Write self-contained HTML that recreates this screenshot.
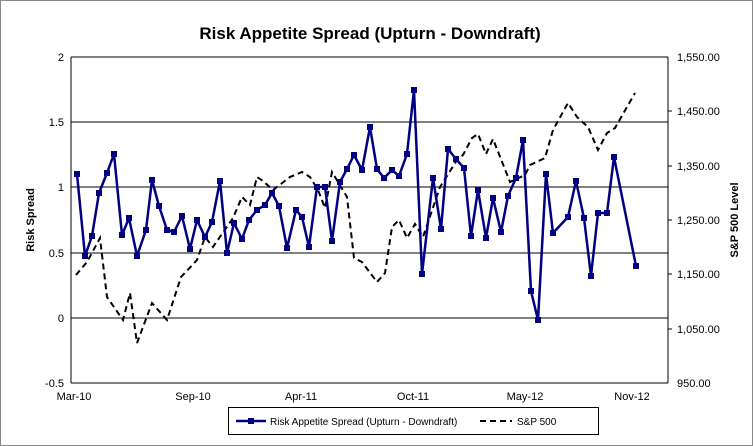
<!DOCTYPE html>
<html><head><style>
body{margin:0;background:#fff;}
svg{display:block;font-family:"Liberation Sans",sans-serif;}
</style></head><body>
<svg width="753" height="446" viewBox="0 0 753 446">
<rect x="0.5" y="0.5" width="752" height="445" fill="#fff" stroke="#888"/>
<text x="370" y="39" font-size="17" font-weight="bold" text-anchor="middle">Risk Appetite Spread (Upturn - Downdraft)</text>
<g stroke="#000" stroke-width="1">
<line x1="71" y1="57" x2="668" y2="57"/>
<line x1="71" y1="122" x2="668" y2="122"/>
<line x1="71" y1="187" x2="668" y2="187"/>
<line x1="71" y1="253" x2="668" y2="253"/>
<line x1="71" y1="318" x2="668" y2="318"/>
<line x1="71" y1="383" x2="668" y2="383"/>
<line x1="71" y1="57" x2="71" y2="383"/>
<line x1="668" y1="57" x2="668" y2="383"/>
<line x1="668" y1="111" x2="672" y2="111"/><line x1="668" y1="166" x2="672" y2="166"/>
<line x1="668" y1="220" x2="672" y2="220"/><line x1="668" y1="274" x2="672" y2="274"/>
<line x1="668" y1="329" x2="672" y2="329"/>
</g>
<g font-size="11" text-anchor="end">
<text x="64" y="61">2</text><text x="64" y="126">1.5</text><text x="64" y="191">1</text>
<text x="64" y="257">0.5</text><text x="64" y="322">0</text><text x="64" y="387">-0.5</text>
</g>
<g font-size="11">
<text x="677" y="61">1,550.00</text><text x="677" y="115">1,450.00</text><text x="677" y="170">1,350.00</text>
<text x="677" y="224">1,250.00</text><text x="677" y="278">1,150.00</text><text x="677" y="333">1,050.00</text>
<text x="677" y="387">950.00</text>
</g>
<g font-size="11" text-anchor="middle">
<text x="74" y="400">Mar-10</text><text x="193" y="400">Sep-10</text><text x="301" y="400">Apr-11</text>
<text x="413" y="400">Oct-11</text><text x="525" y="400">May-12</text><text x="632" y="400">Nov-12</text>
</g>
<text transform="translate(34,220) rotate(-90)" font-size="11" font-weight="bold" text-anchor="middle">Risk Spread</text>
<text transform="translate(738,220) rotate(-90)" font-size="11" font-weight="bold" text-anchor="middle">S&amp;P 500 Level</text>
<polyline fill="none" stroke="#000" stroke-width="2" stroke-dasharray="6,4" points="76,275 87,262 100,238 107,297 123,320 130,293 137,343 152,303 167,320 181,277 197,260 205,237 213,247 233,218 242,197 250,205 257,177 263,181 273,190 290,177 302,172 310,177 318,190 325,208 332,172 347,197 354,258 362,262 377,282 385,273 392,227 399,220 407,238 415,224 423,237 440,187 457,160 463,155 472,138 478,134 486,154 493,139 510,182 525,175 530,165 545,158 553,130 568,103 577,117 588,127 598,150 607,133 615,128 635,93"/>
<g id="blue">
<polyline fill="none" stroke="#000080" stroke-width="2.5" stroke-linejoin="round" points="77,174 85,256 92,236 99,193 107,173 114,154 122,235 129,218 137,256 146,230 152,180 159,206 167,230 174,232 182,216 190,249 197,220 205,237 212,222 220,181 227,253 234,223 242,239 249,220 257,210 265,205 272,193 279,206 287,248 296,210 302,217 309,247 317,187 325,187 332,241 340,182 347,169 354,155 362,170 370,127 377,169 384,178 392,170 399,176 407,154 414,90 422,274 433,178 441,229 448,149 456,159 464,168 471,236 478,190 486,238 493,198 501,232 508,196 516,178 523,140 531,291 538,320 546,174 553,233 568,217 576,181 584,218 591,276 598,213 607,213 614,157 636,266"/>
<g fill="#000080">
<rect x="74" y="171" width="6" height="6"/><rect x="82" y="253" width="6" height="6"/><rect x="89" y="233" width="6" height="6"/><rect x="96" y="190" width="6" height="6"/><rect x="104" y="170" width="6" height="6"/><rect x="111" y="151" width="6" height="6"/><rect x="119" y="232" width="6" height="6"/><rect x="126" y="215" width="6" height="6"/><rect x="134" y="253" width="6" height="6"/><rect x="143" y="227" width="6" height="6"/><rect x="149" y="177" width="6" height="6"/><rect x="156" y="203" width="6" height="6"/><rect x="164" y="227" width="6" height="6"/><rect x="171" y="229" width="6" height="6"/><rect x="179" y="213" width="6" height="6"/><rect x="187" y="246" width="6" height="6"/><rect x="194" y="217" width="6" height="6"/><rect x="202" y="234" width="6" height="6"/><rect x="209" y="219" width="6" height="6"/><rect x="217" y="178" width="6" height="6"/><rect x="224" y="250" width="6" height="6"/><rect x="231" y="220" width="6" height="6"/><rect x="239" y="236" width="6" height="6"/><rect x="246" y="217" width="6" height="6"/><rect x="254" y="207" width="6" height="6"/><rect x="262" y="202" width="6" height="6"/><rect x="269" y="190" width="6" height="6"/><rect x="276" y="203" width="6" height="6"/><rect x="284" y="245" width="6" height="6"/><rect x="293" y="207" width="6" height="6"/><rect x="299" y="214" width="6" height="6"/><rect x="306" y="244" width="6" height="6"/><rect x="314" y="184" width="6" height="6"/><rect x="322" y="184" width="6" height="6"/><rect x="329" y="238" width="6" height="6"/><rect x="337" y="179" width="6" height="6"/><rect x="344" y="166" width="6" height="6"/><rect x="351" y="152" width="6" height="6"/><rect x="359" y="167" width="6" height="6"/><rect x="367" y="124" width="6" height="6"/><rect x="374" y="166" width="6" height="6"/><rect x="381" y="175" width="6" height="6"/><rect x="389" y="167" width="6" height="6"/><rect x="396" y="173" width="6" height="6"/><rect x="404" y="151" width="6" height="6"/><rect x="411" y="87" width="6" height="6"/><rect x="419" y="271" width="6" height="6"/><rect x="430" y="175" width="6" height="6"/><rect x="438" y="226" width="6" height="6"/><rect x="445" y="146" width="6" height="6"/><rect x="453" y="156" width="6" height="6"/><rect x="461" y="165" width="6" height="6"/><rect x="468" y="233" width="6" height="6"/><rect x="475" y="187" width="6" height="6"/><rect x="483" y="235" width="6" height="6"/><rect x="490" y="195" width="6" height="6"/><rect x="498" y="229" width="6" height="6"/><rect x="505" y="193" width="6" height="6"/><rect x="513" y="175" width="6" height="6"/><rect x="520" y="137" width="6" height="6"/><rect x="528" y="288" width="6" height="6"/><rect x="535" y="317" width="6" height="6"/><rect x="543" y="171" width="6" height="6"/><rect x="550" y="230" width="6" height="6"/><rect x="565" y="214" width="6" height="6"/><rect x="573" y="178" width="6" height="6"/><rect x="581" y="215" width="6" height="6"/><rect x="588" y="273" width="6" height="6"/><rect x="595" y="210" width="6" height="6"/><rect x="604" y="210" width="6" height="6"/><rect x="611" y="154" width="6" height="6"/><rect x="633" y="263" width="6" height="6"/>
</g></g>
<rect x="228.5" y="407.5" width="370" height="27" fill="#fff" stroke="#000"/>
<line x1="236" y1="421" x2="266" y2="421" stroke="#000080" stroke-width="2.5"/>
<rect x="248" y="418" width="6" height="6" fill="#000080"/>
<text x="270" y="425" font-size="10">Risk Appetite Spread (Upturn - Downdraft)</text>
<line x1="480" y1="421" x2="512" y2="421" stroke="#000" stroke-width="2" stroke-dasharray="6,4"/>
<text x="517" y="425" font-size="10">S&amp;P 500</text>
</svg>
</body></html>
